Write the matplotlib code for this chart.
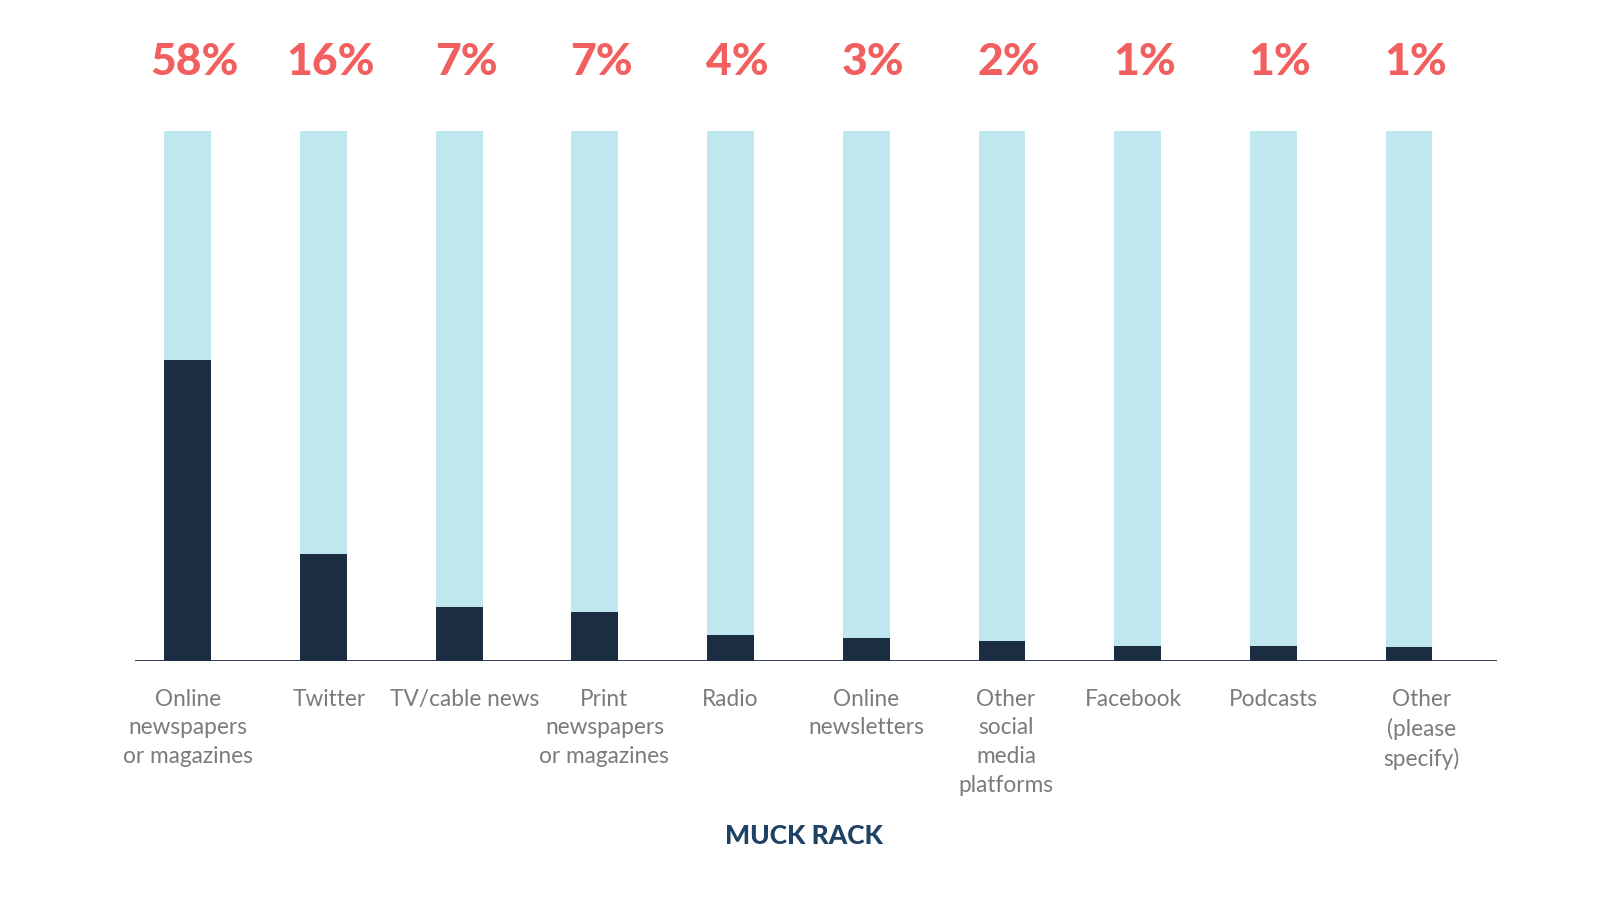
import numpy as np
from matplotlib import pyplot as plt

categories = [
    "Online\nnewspapers\nor magazines",
    "Twitter",
    "TV/cable news",
    "Print\nnewspapers\nor magazines",
    "Radio",
    "Online\nnewsletters",
    "Other\nsocial\nmedia\nplatforms",
    "Facebook",
    "Podcasts",
    "Other\n(please\nspecify)",
]
pct_labels = ["58%", "16%", "7%", "7%", "4%", "3%", "2%", "1%", "1%", "1%"]
# dark bar heights as drawn in the graphic (share of full bar)
dark_heights = [56.8, 20.2, 10.2, 9.2, 4.9, 4.3, 3.8, 2.8, 2.8, 2.6]
full_height = 100

LIGHT = "#bfe7ee"
DARK = "#1c2d42"
RED = "#f25f5f"
GREY = "#7b7b7b"
NAVY = "#1d4263"

plt.rcParams["font.family"] = ["Lato", "DejaVu Sans"]

fig = plt.figure(figsize=(16, 9), dpi=100)
ax = fig.add_axes([135 / 1600, 1 - 661 / 900, (1497 - 135) / 1600, (661 - 131) / 900])

x = np.arange(len(categories))
width = 0.345
ax.bar(x, [full_height] * len(x), width=width, color=LIGHT, zorder=1)
ax.bar(x, dark_heights, width=width, color=DARK, zorder=2)
ax.axhline(0, color=DARK, linewidth=2, zorder=3)

ax.set_xlim(-0.389, 9.648)
ax.set_ylim(0, 100)
ax.axis("off")

for xi, lab in zip(x, pct_labels):
    ax.text(xi + 0.05, 113.1, lab, ha="center", va="center", fontsize=32,
            fontweight="black", color=RED, clip_on=False)

# small sideways nudges of the category labels, as in the original layout
nudge = [0.0, 0.04, 0.04, 0.07, 0.0, 0.0, 0.03, -0.03, 0.0, 0.09]
for xi, cat, dx in zip(x, categories, nudge):
    ax.text(xi + dx, -5.2, cat, ha="center", va="top", fontsize=16.3,
            color=GREY, linespacing=1.45, clip_on=False)

fig.text(0.5027, 1 - 836 / 900, "MUCK RACK", ha="center", va="center",
         fontsize=19, fontweight="black", color=NAVY)

fig.savefig("out.png", dpi=100)
plt.close(fig)
